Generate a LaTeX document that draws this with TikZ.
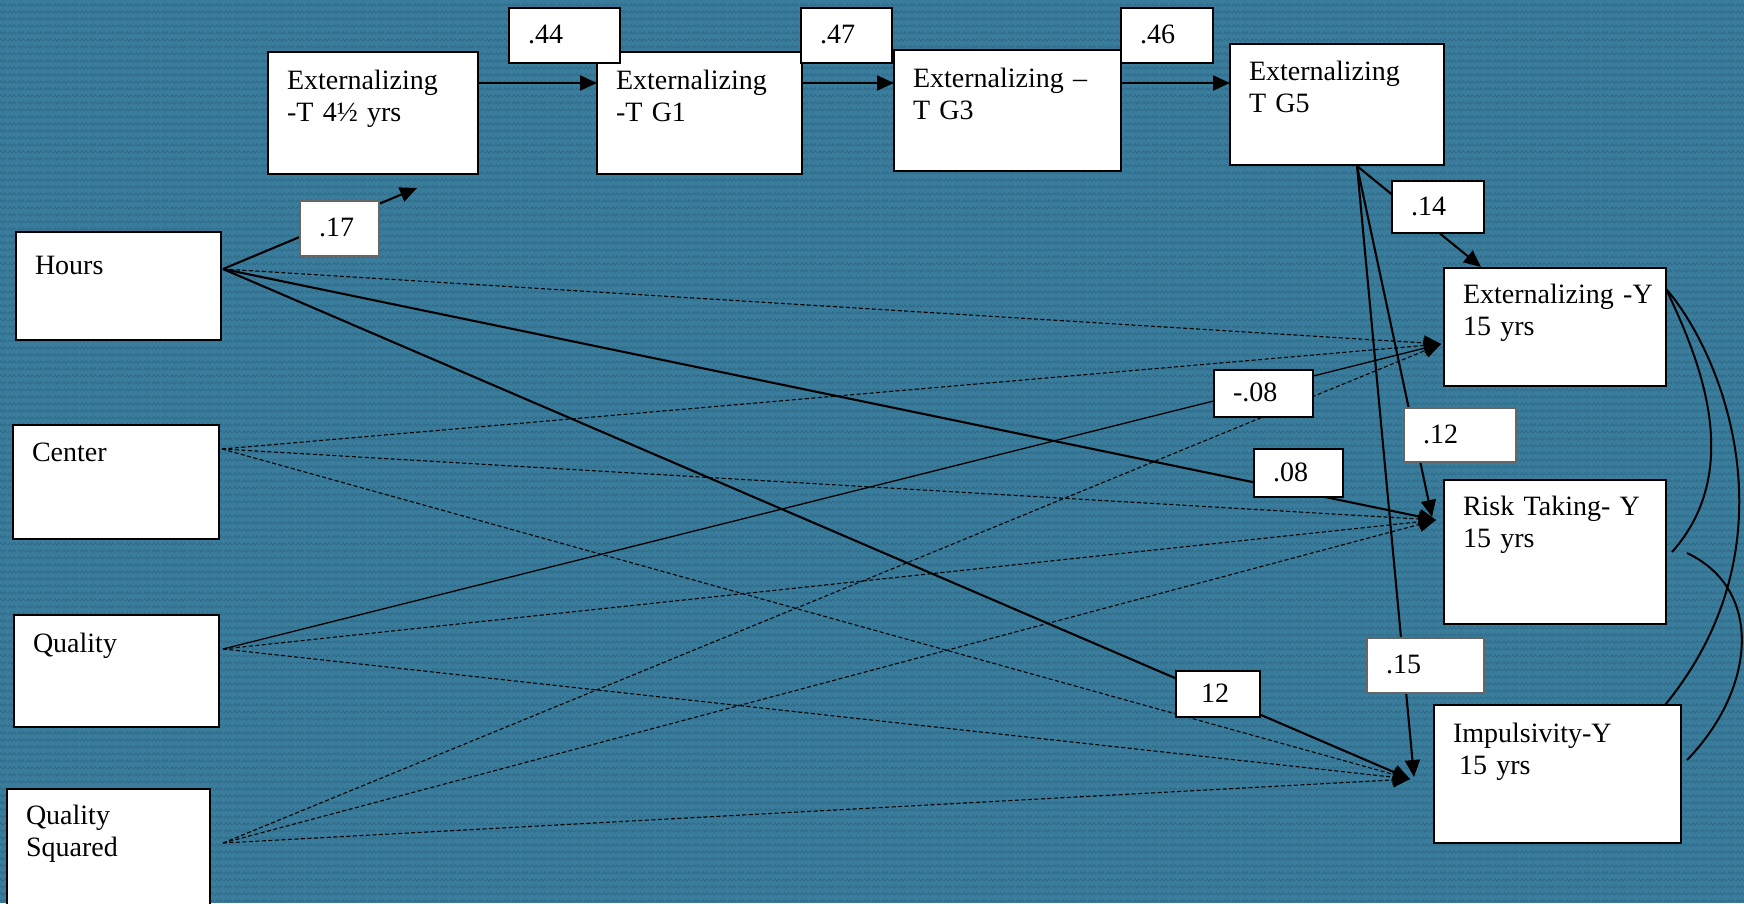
\documentclass[tikz,border=0pt]{standalone}
\usepackage{fontspec}
\setmainfont{Liberation Serif}
\usetikzlibrary{arrows.meta,calc,patterns.meta}

\definecolor{bgblue}{RGB}{58,124,155}
\definecolor{bgdark}{RGB}{47,106,136}

% woven cloth texture for the backdrop
\tikzdeclarepattern{
  name=weave,
  type=uncolored,
  bottom left={(0pt,0pt)},
  top right={(9pt,7pt)},
  tile size={(9pt,7pt)},
  code={\draw[line width=0.9pt] (0pt,2pt) -- (2.25pt,5pt) -- (4.5pt,2pt) -- (6.75pt,5pt) -- (9pt,2pt);}
}

\tikzset{
  varbox/.style={draw=black, line width=2.4pt, fill=white, anchor=north west,
    align=left, inner xsep=19pt, inner ysep=0pt, outer sep=0pt,
    font=\fontsize{28}{32}\selectfont},
  coefbox/.style={draw=black, line width=2pt, fill=white, anchor=north west,
    align=left, inner xsep=19pt, inner ysep=0pt, outer sep=0pt,
    font=\fontsize{28}{32}\selectfont},
  palebox/.style={coefbox, draw=black!60, line width=1.2pt},
  solidarr/.style={line width=2.1pt, -{Triangle[length=17pt,width=15pt]}},
  thinarr/.style={line width=1.3pt, -{Triangle[length=17pt,width=15pt]}},
  dotarr/.style={line width=1.1pt, dash pattern=on 4pt off 2.5pt, -{Triangle[length=17pt,width=15pt]}},
  covar/.style={line width=2pt},
}

\begin{document}
\begin{tikzpicture}[x=1pt, y=-1pt]
\useasboundingbox (0,0) rectangle (1744,903);
\clip (0,0) rectangle (1744,903);
\fill[bgblue] (0,0) rectangle (1744,903);
\fill[pattern=weave, pattern color=bgdark] (0,0) rectangle (1744,903);

% ---- variables ----
\node[varbox, text width=172pt, text height=37pt, text depth=85pt] (e45) at (268,52) {\mbox{Externalizing}\\\mbox{-T 4½ yrs}};
\node[varbox, text width=167pt, text height=37pt, text depth=85pt] (g1) at (597,52) {\mbox{Externalizing}\\\mbox{-T G1}};
\node[varbox, text width=189pt, text height=37pt, text depth=84pt] (g3) at (894,50) {\mbox{Externalizing –}\\\mbox{T G3}};
\node[varbox, text width=176pt, text height=36pt, text depth=85pt] (g5) at (1230,44) {\mbox{Externalizing}\\\mbox{T G5}};

\node[varbox, text width=184pt, text height=35pt, text depth=83pt] (exty) at (1444,268) {\mbox{Externalizing -Y}\\\mbox{15 yrs}};
\node[varbox, text width=184pt, text height=35pt, text depth=109pt] (risk) at (1444,480) {\mbox{Risk Taking- Y}\\\mbox{15 yrs}};
\node[varbox, text width=209pt, text height=37pt, text depth=101pt] (impuls) at (1434,705) {\mbox{Impulsivity-Y}\\\hspace*{6pt}\mbox{15 yrs}};

\node[varbox, text width=167pt, text height=42pt, text depth=66pt] (hours) at (16,232) {Hours};
\node[varbox, text width=168pt, text height=36pt, text depth=78pt] (center) at (13,425) {Center};
\node[varbox, text width=167pt, text height=37pt, text depth=75pt] (quality) at (14,615) {Quality};
\node[varbox, text width=165pt, text height=35pt, text depth=95pt] (qsq) at (7,789) {Quality\\Squared};

% ---- connector end points ----
\coordinate (hoursOut) at ($(hours.north east)+(2,37)$);
\coordinate (centerOut) at ($(center.north east)+(3,24)$);
\coordinate (qualOut) at ($(quality.north east)+(4,34)$);
\coordinate (qsqOut) at ($(qsq.north east)+(13,54)$);
\coordinate (g5Out) at ($(g5.south west)+(127,1)$);
\coordinate (e45In) at ($(e45.south west)+(149,14)$);
\coordinate (yIn) at ($(exty.north west)+(-3,76)$);
\coordinate (yTop) at ($(exty.north west)+(37,-1)$);
\coordinate (rIn) at ($(risk.north west)+(-8,40)$);
\coordinate (rTop) at ($(risk.north west)+(-12,37)$);
\coordinate (iIn) at ($(impuls.north west)+(-24,74)$);
\coordinate (iTop) at ($(impuls.north west)+(-20,72)$);

% ---- stability paths ----
\draw[solidarr] ($(e45.north east)+(0,31)$) -- ($(g1.north west)+(0,31)$);
\draw[solidarr] ($(g1.north east)+(0,31)$) -- ($(g3.north west)+(0,33)$);
\draw[solidarr] ($(g3.north east)+(0,33)$) -- ($(g5.north west)+(0,39)$);

% ---- predictors ----
\draw[solidarr] (hoursOut) -- (e45In);
\draw[dotarr] (hoursOut) -- (yIn);
\draw[solidarr] (hoursOut) -- (rIn);
\draw[solidarr] (hoursOut) -- (iIn);

\draw[dotarr] (centerOut) -- (yIn);
\draw[dotarr] (centerOut) -- (rIn);
\draw[dotarr] (centerOut) -- (iIn);

\draw[thinarr] (qualOut) -- (yIn);
\draw[dotarr] (qualOut) -- (rIn);
\draw[dotarr] (qualOut) -- (iIn);

\draw[dotarr] (qsqOut) -- (yIn);
\draw[dotarr] (qsqOut) -- (rIn);
\draw[dotarr] (qsqOut) -- (iIn);

\draw[solidarr] (g5Out) -- (yTop);
\draw[solidarr] (g5Out) -- (rTop);
\draw[solidarr] (g5Out) -- (iTop);

% ---- outcome covariances ----
\draw[covar] ($(exty.north east)+(0,21)$) .. controls (1700,360) and (1745,470) .. ($(risk.north east)+(6,72)$);
\draw[covar] ($(exty.north east)+(0,21)$) .. controls (1720,350) and (1800,540) .. ($(impuls.north east)+(-16,0)$);
\draw[covar] ($(risk.north east)+(21,73)$) .. controls (1765,590) and (1755,690) .. ($(impuls.north east)+(6,55)$);

% ---- coefficients ----
\node[coefbox, text width=73pt, text height=35.5pt, text depth=19.5pt] (c44) at (509,8) {.44};
\node[coefbox, text width=53pt, text height=35.5pt, text depth=19.5pt] (c47) at (801,8) {.47};
\node[coefbox, text width=54pt, text height=35.5pt, text depth=19.5pt] (c46) at (1121,8) {.46};
\node[palebox, text width=41pt, text height=35.5pt, text depth=19.5pt] (c17) at (300,201) {.17};
\node[coefbox, text width=54pt, text height=34pt, text depth=18pt] (c14) at (1392,181) {.14};
\node[palebox, text width=74pt, text height=35pt, text depth=19pt] (c12) at (1404,408) {.12};
\node[palebox, text width=79pt, text height=35.5pt, text depth=19.5pt] (c15) at (1367,638) {.15};
\node[coefbox, text width=61pt, text height=31.5pt, text depth=15.5pt] (cm08) at (1214,370) {-.08};
\node[coefbox, text width=51pt, text height=32pt, text depth=16pt] (c08) at (1254,449) {.08};
\node[coefbox, inner xsep=25pt, text width=34pt, text height=31pt, text depth=15pt] (c12b) at (1176,671) {12};
\end{tikzpicture}
\end{document}
